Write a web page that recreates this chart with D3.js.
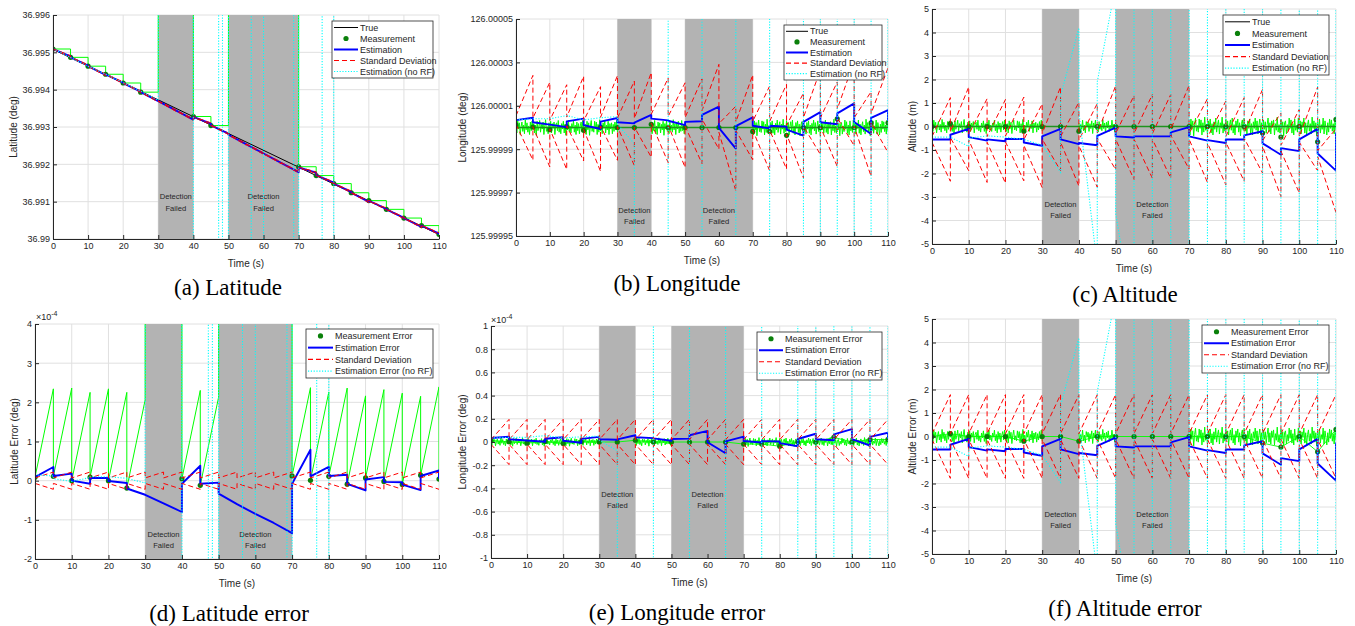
<!DOCTYPE html>
<html><head><meta charset="utf-8">
<script src="https://cdn.jsdelivr.net/npm/d3@7"></script>
<style>
body{margin:0;background:#fff;}
svg{display:block;}
text{font-family:"Liberation Sans",Arial,Helvetica,sans-serif;fill:#262626;}
text.caption{font-family:"Liberation Serif","Times New Roman",serif;fill:#000;}
</style></head><body>
<script>
// ================= DATA =================
const timeTicks = [0,10,20,30,40,50,60,70,80,90,100,110];
const measTimes = [0,5,10,15,20,25,30,35,40,45,50,55,60,65,70,75,80,85,90,95,100,105,110];
const failWindows = [[30,40],[50,70]];
const failText = ["Detection","Failed"];

// Latitude (errors in 1e-4 deg)
const latTrueLine = [[0,36.99508],[110,36.99012]];
const latMeasErr = [0.09,0.11,0.0,0.09,0.0,-0.19,null,null,0.05,-0.12,null,null,null,null,0.12,0.01,0.11,-0.09,0.07,-0.02,-0.10,0.14,0.04];
// rows: [time, value arriving, value leaving]
const latEstErr = [[0,0.09,0.09],[5,0.35,0.12],[10,0.18,0.0],[15,-0.08,0.07],[20,0.07,-0.01],[25,-0.06,-0.2],[30,-0.36,-0.36],[35,-0.58,-0.58],[40,-0.8,-0.08],[45,0.38,-0.08],[50,-0.05,-0.33],[55,-0.6,-0.6],[60,-0.85,-0.85],[65,-1.08,-1.08],[70,-1.34,-0.08],[75,0.79,0.11],[80,0.35,0.12],[85,0.15,-0.08],[90,-0.25,0.03],[95,0.09,-0.03],[100,-0.04,-0.1],[105,-0.24,0.12],[110,0.26,0.05]];
const latSigma = [0.07,0.22];
const latNoRfErr = [[0,0.15],[5,0.12],[5,0.05],[10,-0.02],[15,0.08],[15,0.1],[20,0.1],[25,0.06],[30,-0.06],[30,99],[40,99],[40,-99],[47.2,-99],[47.2,99],[48.3,99],[48.3,-99],[50,-99],[50,99],[56.5,99],[56.5,-99],[60,-99],[60,99],[68.6,99],[68.6,-99],[70,-99],[70,99],[76.7,99],[76.7,-99],[80,-99],[80,99],[110,99]];
const latTickVals = [36.99,36.991,36.992,36.993,36.994,36.995,36.996];
const latTickLabels = ["36.99","36.991","36.992","36.993","36.994","36.995","36.996"];
const latErrTickVals = [-2,-1,0,1,2,3,4];
const latErrTickLabels = ["-2","-1","0","1","2","3","4"];

// Longitude (offsets from 126 deg, in 1e-6 deg)
const longMeasErr = [1.2,0.2,-1.0,0.4,-1.3,0.2,0,0,1.5,0,0,0,0,0,-1.8,-1.8,-3.6,0,0,4.0,0,2.1,2.2];
const longEstErr = [[0,3.4,3.4],[5,4.5,2.4],[10,1.3,1.3],[15,0.2,2.8],[20,4.1,1.1],[25,-0.7,2.7],[30,4.4,2.4],[35,1.9,2.2],[40,5.8,4.1],[45,3.3,3.1],[50,1.1,2.6],[55,2.9,5.8],[60,9.6,-0.2],[65,-9.7,0.6],[70,4.7,0.8],[75,-0.4,0.8],[80,0.4,-1.0],[85,-3.7,2.6],[90,7.1,2.4],[95,1.5,6.5],[100,11.1,2.5],[105,-3.0,4.4],[110,8.0,3.0]];
const longSigma = [2.0,19.5];
const longNoRfErr = [[0,3.5],[5,4.0],[10,4.0],[15,5.5],[20,3.5],[25,4.5],[30,5.0],[30,1.5],[35,-7.5],[35,-999],[45,-999],[45,999],[55,999],[55,-999],[65,-999],[65,999],[75,999],[75,-999],[85,-999],[85,999],[90,999],[90,-999],[95,-999],[95,999],[100,999],[100,-999],[105,-999],[105,999],[110,999],[110,-999]];
const longTickVals = [-50,-30,-10,10,30,50];
const longTickLabels = ["125.99995","125.99997","125.99999","126.00001","126.00003","126.00005"];
const longErrTickVals = [-1,-0.8,-0.6,-0.4,-0.2,0,0.2,0.4,0.6,0.8,1];
const longErrTickLabels = ["-1","-0.8","-0.6","-0.4","-0.2","0","0.2","0.4","0.6","0.8","1"];

// Altitude (m)
const altMeasErr = [0,0.12,0,0,0,-0.2,0,0,-0.2,0,0,0,0,0,0,0,0,0,-0.28,-0.45,0,-0.65,0.3];
const altEstErr = [[0,-0.55,-0.55],[5,-0.55,-0.35],[10,-0.1,-0.45],[15,-0.6,-0.55],[20,-0.63,-0.53],[25,-0.53,-0.68],[30,-0.82,-0.42],[35,-0.1,-0.55],[40,-0.75,-0.7],[45,-0.8,-0.4],[50,-0.05,-0.42],[55,-0.47,-0.42],[60,-0.42,-0.42],[65,-0.42,-0.25],[70,-0.03,-0.42],[75,-0.6,-0.58],[80,-0.7,-0.55],[85,-0.55,-0.38],[90,-0.2,-0.72],[95,-1.2,-0.92],[100,-1.05,-0.55],[105,-0.1,-1.15],[110,-1.88,-0.25]];
const altSigma = [0.12,1.78];
const altNoRfErr = [[0,-0.45],[5,-0.45],[10,-0.85],[10,-0.5],[15,-0.4],[20,-0.45],[25,-0.55],[30,-0.8],[35,-1.95],[35,1.3],[40,4.2],[40,0.6],[44.3,-5],[44.5,-9],[45,-9],[45,1.9],[48.8,5],[49,9],[50,9],[50,-3.7],[51.4,-5],[51.5,-9],[55,-9],[55,9],[60,9],[60,-9],[65,-9],[65,9],[70,9],[70,-9],[75,-9],[75,9],[80,9],[80,-9],[85,-9],[85,9],[90,9],[90,-9],[95,-9],[95,9],[100,9],[100,-9],[105,-9],[105,9],[110,9],[110,-9]];
const altTickVals = [-5,-4,-3,-2,-1,0,1,2,3,4,5];
const altTickLabels = ["-5","-4","-3","-2","-1","0","1","2","3","4","5"];

// Measurement noise (normalized), sampled every 0.25 s in the three segments with detections
const noiseStep = 0.25;
const noiseA = [0.4,-0.7,0.9,-0.2,0.6,-0.9,0.1,0.7,-0.5,0.3,
 -0.8,1.0,-0.3,0.6,-0.6,0.2,-0.9,0.7,-0.4,0.8,
 -0.1,0.5,-0.7,0.3,-1.0,0.8,-0.4,0.1,0.9,-0.6,
 0.4,-0.2,0.7,-0.9,0.2,1.0,-0.5,0.1,-0.8,0.6,
 -0.3,0.8,-0.7,0.5,-0.1,0.7,-0.9,0.3,0.6,-0.4,
 0.9,-0.6,0.1,-0.8,0.5,-0.2,0.8,-0.7,0.4,-1.0,
 0.6,-0.3,0.9,-0.5,0.2,-0.7,0.5,-0.1,0.9,-0.6,
 0.3,-0.9,0.7,-0.4,0.5,-0.8,0.2,0.7,-0.5,0.9,
 -0.2,-0.7,0.4,-0.9,0.8,-0.3,0.6,-1.0,0.2,0.9,
 -0.5,0.1,-0.6,0.8,-0.2,0.7,-0.9,0.4,-0.6,1.0,
 -0.4,0.2,-0.8,0.6,-0.1,0.9,-0.7,0.3,-0.3,0.8,
 -0.9,0.5,-0.2,0.6,-0.8,0.4,-0.5,0.7,-0.3,0.9,
 -0.6];
const noiseB = [0.5,-0.8,0.3,-0.4,0.9,-0.6,0.2,-0.9,0.7,-0.1,
 0.6,-0.7,0.4,-0.3,0.8,-1.0,0.5,-0.2,0.9,-0.5,
 0.1,-0.8,0.7,-0.4,0.3,-0.6,1.0,-0.3,0.5,-0.9,
 0.6,-0.2,0.8,-0.7,0.2,-0.5,0.9,-0.4,0.3,-0.8,
 0.4];
const noiseC = [0.3,-0.9,0.8,-0.3,0.6,-1.0,0.2,0.9,-0.5,0.1,
 -0.6,0.8,-0.2,0.7,-0.9,0.4,-0.6,1.0,-0.4,0.2,
 -0.8,0.6,-0.1,0.8,-0.7,0.3,-0.9,0.5,-0.3,0.9,
 -0.6,0.2,0.7,-0.8,0.4,-0.2,1.0,-0.7,0.3,-0.5,
 0.8,-0.3,0.6,-0.9,0.1,0.7,-0.4,0.9,-0.7,0.2,
 -0.9,0.6,-0.1,0.8,-0.6,0.4,-1.0,0.3,0.7,-0.4,
 0.9,-0.5,0.2,-0.8,0.6,-0.2,0.8,-0.7,0.3,-0.9,
 0.5,-0.2,0.9,-0.4,0.6,-0.8,0.1,0.8,-0.5,0.4,
 -1.0,0.7,-0.3,0.5,-0.7,0.2,0.9,-0.6,0.4,-0.8,
 0.6,-0.1,0.7,-0.9,0.3,-0.4,1.0,-0.6,0.2,-0.7,
 0.8,-0.3,0.5,-1.0,0.4,0.6,-0.8,0.2,-0.5,0.9,
 -0.2,0.7,-0.7,0.3,-0.9,0.8,-0.4,0.1,-0.6,0.9,
 -0.3,0.6,-0.8,0.5,-0.1,0.9,-0.7,0.4,-0.9,0.2,
 0.7,-0.5,0.3,-0.8,1.0,-0.2,0.6,-0.6,0.4,-1.0,
 0.5,-0.4,0.8,-0.7,0.2,-0.3,0.9,-0.8,0.6,-0.1,
 -0.9,0.4,-0.6,0.8,-0.2,0.7,-0.5,0.3,-0.8,0.9,
 -0.4];
const noiseSegments = [{start:0,values:noiseA},{start:40,values:noiseB},{start:70,values:noiseC}];
const longNoiseAmp = [3.6,3.6,3.8];
const altNoiseAmp = [0.3,0.3,0.4];

const legendAbs = ["True","Measurement","Estimation","Standard Deviation","Estimation (no RF)"];
const legendErr = ["Measurement Error","Estimation Error","Standard Deviation","Estimation Error (no RF)"];

// ================= DRAWING =================
const svg = d3.select('body').append('svg').attr('width',1355).attr('height',626);
const defs = svg.append('defs');
const latTrue = d3.scaleLinear().domain(latTrueLine.map(d=>d[0])).range(latTrueLine.map(d=>d[1]));
const zero = () => 0;

const C = {
  grid:'#e0e0e0', patch:'#b3b3b3', blue:'#0000ff', red:'#ff0000', cyan:'#00ffff',
  lime:'#00ff00', dot:'#0a800a', darkgreen:'#1f931f', axis:'#262626'
};

function rowsToPath(rows){ return rows.flatMap(r=>[[r[0],r[1]],[r[0],r[2]]]); }
function sigmaPath(rows, sig, sign, onEst){
  const pts=[];
  rows.forEach((r,i)=>{
    const bIn = onEst? r[1]:0, bOut = onEst? r[2]:0;
    if(i>0) pts.push([r[0], bIn + sign*sig[1]]);
    if(i<rows.length-1) pts.push([r[0], bOut + sign*sig[0]]);
  });
  return pts;
}

function drawPanel(p){
  const x = d3.scaleLinear().domain([0,110]).range([p.L,p.R]);
  const y = d3.scaleLinear().domain(p.yDomain).range([p.B,p.T]);
  const ln = d3.line().x(d=>x(d[0])).y(d=>y(d[1]));
  const g = svg.append('g');
  defs.append('clipPath').attr('id','clip-'+p.id).append('rect')
    .attr('x',p.L).attr('y',p.T).attr('width',p.R-p.L).attr('height',p.B-p.T);

  // grid
  g.append('g').selectAll('line').data(timeTicks).join('line')
    .attr('x1',d=>x(d)).attr('x2',d=>x(d)).attr('y1',p.T).attr('y2',p.B)
    .attr('stroke',C.grid).attr('stroke-width',1);
  g.append('g').selectAll('line').data(p.yTicks).join('line')
    .attr('y1',d=>y(d)).attr('y2',d=>y(d)).attr('x1',p.L).attr('x2',p.R)
    .attr('stroke',C.grid).attr('stroke-width',1);

  // failure windows
  g.append('g').selectAll('rect').data(failWindows).join('rect')
    .attr('x',d=>x(d[0])).attr('width',d=>x(d[1])-x(d[0]))
    .attr('y',p.T).attr('height',p.B-p.T).attr('fill',C.patch);
  failWindows.forEach(w=>{
    failText.forEach((s,i)=>{
      g.append('text').attr('x',x((w[0]+w[1])/2)).attr('y',y(p.failY)+i*11.3)
        .attr('dy','0.35em').attr('text-anchor','middle').attr('font-size',7.6).text(s);
    });
  });

  const plot = g.append('g').attr('clip-path',`url(#clip-${p.id})`);
  const val = (t,v)=> p.center(t) + p.k*v;
  const mapPts = pts => pts.map(([t,v])=>[t,val(t,v)]);

  if(p.noiseAmp){
    noiseSegments.forEach((seg,si)=>{
      const pts = seg.values.map((v,i)=>[seg.start+i*noiseStep, v*p.noiseAmp[si]]);
      plot.append('path').attr('d',ln(mapPts(pts))).attr('fill','none')
        .attr('stroke',C.lime).attr('stroke-width',1);
    });
  }
  if(p.extra==='step'){
    const pts = measTimes.map((t,i)=>[t, p.meas[i]==null? 99 : p.meas[i]]);
    const stepLine = d3.line().x(d=>x(d[0])).y(d=>y(d[1])).curve(d3.curveStepAfter);
    plot.append('path').attr('d',stepLine(mapPts(pts))).attr('fill','none')
      .attr('stroke',C.lime).attr('stroke-width',1);
  }
  if(p.extra==='saw'){
    const pts=[];
    measTimes.forEach((t,i)=>{
      if(i===measTimes.length-1){ pts.push([t,p.meas[i]]); return; }
      const t2 = measTimes[i+1];
      if(p.meas[i]==null){ pts.push([t,99]); pts.push([t2,99]); }
      else {
        pts.push([t,p.meas[i]]);
        pts.push([t2, p.meas[i] + (latTrue(t)-latTrue(t2))*1e4]);
      }
    });
    plot.append('path').attr('d',ln(pts)).attr('fill','none')
      .attr('stroke',C.lime).attr('stroke-width',1);
  }
  if(p.trueColor){
    plot.append('path').attr('d',ln([[0,p.center(0)],[110,p.center(110)]])).attr('fill','none')
      .attr('stroke',p.trueColor).attr('stroke-width',p.trueWidth);
  }
  if(p.extra==='measLine'){
    const pts = measTimes.map((t,i)=>[t,p.meas[i]]);
    plot.append('path').attr('d',ln(mapPts(pts))).attr('fill','none')
      .attr('stroke',C.lime).attr('stroke-width',0.9);
  }
  const dots = measTimes.map((t,i)=>[t,p.meas[i]]).filter(d=>d[1]!=null);
  plot.append('g').selectAll('circle').data(mapPts(dots)).join('circle')
    .attr('cx',d=>x(d[0])).attr('cy',d=>y(d[1])).attr('r',2.6).attr('fill',C.dot);

  plot.append('path').attr('d',ln(mapPts(rowsToPath(p.est)))).attr('fill','none')
    .attr('stroke',C.blue).attr('stroke-width',1.9).attr('stroke-linejoin','round');
  [1,-1].forEach(s=>{
    plot.append('path').attr('d',ln(mapPts(sigmaPath(p.est,p.sigma,s,p.sigmaOnEst)))).attr('fill','none')
      .attr('stroke',C.red).attr('stroke-width',1).attr('stroke-dasharray','5,3');
  });
  plot.append('path').attr('d',ln(mapPts(p.noRf))).attr('fill','none')
    .attr('stroke',C.cyan).attr('stroke-width',1.1).attr('stroke-dasharray','1.2,1.6');

  // axes
  const ax = d3.axisLeft(y).tickValues(p.yTicks)
    .tickFormat(d=>p.yTickLabels[p.yTicks.indexOf(d)])
    .tickSizeInner(-4).tickSizeOuter(0).tickPadding(3);
  const gy = g.append('g').attr('transform',`translate(${p.L},0)`).call(ax);
  const bx = d3.axisBottom(x).tickValues(timeTicks).tickFormat(d=>String(d))
    .tickSizeInner(-4).tickSizeOuter(0).tickPadding(4);
  const gx = g.append('g').attr('transform',`translate(0,${p.B})`).call(bx);
  [gx,gy].forEach(a=>{
    a.attr('font-size',9).attr('font-family','"Liberation Sans",Arial,sans-serif');
    a.select('.domain').attr('stroke',C.axis).attr('stroke-width',1);
    a.selectAll('.tick line').attr('stroke',C.axis);
    a.selectAll('.tick text').attr('fill',C.axis);
  });

  g.append('text').attr('x',(p.L+p.R)/2).attr('y',p.B+24).attr('dy','0.35em')
    .attr('text-anchor','middle').attr('font-size',10).text('Time (s)');
  g.append('text').attr('transform',`translate(${p.ylabX},${(p.T+p.B)/2}) rotate(-90)`)
    .attr('dy','0.35em').attr('text-anchor','middle').attr('font-size',10).text(p.ylabel);
  if(p.exp){
    const t = g.append('text').attr('x',p.exp[0]).attr('y',p.exp[1]).attr('font-size',9);
    t.append('tspan').text('\u00d710');
    t.append('tspan').attr('dy',-4).attr('font-size',7).text('-4');
  }
  g.append('text').attr('class','caption').attr('x',p.cap[0]).attr('y',p.cap[1]).attr('text-anchor','middle')
    .attr('font-size',23).text(p.caption);

  // legend
  const L = p.legend, n = p.entries.length;
  const lg = svg.append('g');
  lg.append('rect').attr('x',L.x).attr('y',L.y).attr('width',L.w).attr('height',L.h)
    .attr('fill','#fff').attr('stroke',C.axis).attr('stroke-width',0.8);
  const sp = (L.h-2)/n;
  p.entries.forEach((e,i)=>{
    const cy = L.y + 1 + sp/2 + i*sp;
    const x0 = L.x+2, x1 = L.x+2+L.sw;
    const kind = p.kinds[i];
    if(kind==='dot'){
      lg.append('circle').attr('cx',(x0+x1)/2).attr('cy',cy).attr('r',2.6).attr('fill',C.dot);
    } else {
      const st = {true:['#000',1,null], est:[C.blue,2,null], std:[C.red,1.2,'5,3'], norf:[C.cyan,1.2,'1.2,1.6']}[kind];
      lg.append('line').attr('x1',x0).attr('x2',x1).attr('y1',cy).attr('y2',cy)
        .attr('stroke',st[0]).attr('stroke-width',st[1]).attr('stroke-dasharray',st[2]);
    }
    lg.append('text').attr('x',x1+2).attr('y',cy).attr('dy','0.35em').attr('font-size',9).text(e);
  });
}

const kindsAbs = ['true','dot','est','std','norf'];
const kindsErr = ['dot','est','std','norf'];

const panels = [
  {id:'a', L:53,T:15,R:439,B:239, yDomain:[36.99,36.996], yTicks:latTickVals, yTickLabels:latTickLabels,
   ylabel:'Latitude (deg)', ylabX:13, caption:'(a) Latitude', cap:[228,295], failY:36.99113,
   center:latTrue, k:1e-4, meas:latMeasErr, est:latEstErr, sigma:latSigma, sigmaOnEst:true, noRf:latNoRfErr,
   extra:'step', trueColor:'#000', trueWidth:1,
   legend:{x:332,y:21,w:101,h:57,sw:24}, entries:legendAbs, kinds:kindsAbs},
  {id:'b', L:516,T:19,R:888,B:236, yDomain:[-50,50], yTicks:longTickVals, yTickLabels:longTickLabels,
   ylabel:'Longitude (deg)', ylabX:462, caption:'(b) Longitude', cap:[677,291], failY:-38,
   center:zero, k:1, meas:longMeasErr, est:longEstErr, sigma:longSigma, sigmaOnEst:true, noRf:longNoRfErr,
   noiseAmp:longNoiseAmp, trueColor:C.darkgreen, trueWidth:1.6,
   legend:{x:784,y:25,w:98,h:55,sw:22}, entries:legendAbs, kinds:kindsAbs},
  {id:'c', L:932,T:9,R:1336,B:244, yDomain:[-5,5], yTicks:altTickVals, yTickLabels:altTickLabels,
   ylabel:'Altitude (m)', ylabX:912, caption:'(c) Altitude', cap:[1125,302], failY:-3.3,
   center:zero, k:1, meas:altMeasErr, est:altEstErr, sigma:altSigma, sigmaOnEst:true, noRf:altNoRfErr,
   noiseAmp:altNoiseAmp, trueColor:C.darkgreen, trueWidth:1.6,
   legend:{x:1223,y:15,w:106,h:60,sw:25}, entries:legendAbs, kinds:kindsAbs},
  {id:'d', L:35,T:324,R:439,B:559, yDomain:[-2,4], yTicks:latErrTickVals, yTickLabels:latErrTickLabels,
   ylabel:'Latitude Error (deg)', ylabX:14, caption:'(d) Latitude error', cap:[229,621], failY:-1.36,
   center:zero, k:1, meas:latMeasErr, est:latEstErr, sigma:latSigma, sigmaOnEst:false, noRf:latNoRfErr,
   extra:'saw', exp:[36,320],
   legend:{x:306,y:329,w:127,h:49,sw:25}, entries:legendErr, kinds:kindsErr},
  {id:'e', L:491,T:326,R:888,B:558, yDomain:[-1,1], yTicks:longErrTickVals, yTickLabels:longErrTickLabels,
   ylabel:'Longitude Error (deg)', ylabX:462, caption:'(e) Longitude error', cap:[677,620], failY:-0.448,
   center:zero, k:0.01, meas:longMeasErr, est:longEstErr, sigma:longSigma, sigmaOnEst:false, noRf:longNoRfErr,
   noiseAmp:longNoiseAmp, extra:'measLine', exp:[491,323],
   legend:{x:757,y:332,w:125,h:48,sw:24}, entries:legendErr, kinds:kindsErr},
  {id:'f', L:932,T:319,R:1336,B:554, yDomain:[-5,5], yTicks:altTickVals, yTickLabels:altTickLabels,
   ylabel:'Altitude Error (m)', ylabX:912, caption:'(f) Altitude error', cap:[1125,616], failY:-3.3,
   center:zero, k:1, meas:altMeasErr, est:altEstErr, sigma:altSigma, sigmaOnEst:false, noRf:altNoRfErr,
   noiseAmp:altNoiseAmp, extra:'measLine',
   legend:{x:1202,y:325,w:127,h:48,sw:25}, entries:legendErr, kinds:kindsErr}
];
panels.forEach(drawPanel);
</script>
</body></html>
